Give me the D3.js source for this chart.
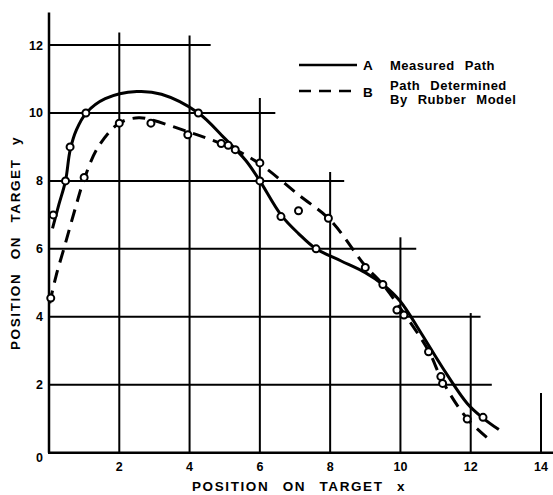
<!DOCTYPE html>
<html>
<head>
<meta charset="utf-8">
<script src="https://cdn.jsdelivr.net/npm/d3@7"></script>
<style>
  html, body { margin: 0; padding: 0; background: #fff; }
  svg { display: block; }
  text { font-family: "Liberation Sans", Arial, sans-serif; font-weight: bold; fill: #000; }
</style>
</head>
<body>
<svg id="chart" width="553" height="495"></svg>
<script>
// ---- data ----
const xTicks = [2, 4, 6, 8, 10, 12, 14];
const yTicks = [0, 2, 4, 6, 8, 10, 12];
// staircase grid: horizontal line at y ends at x; vertical line at x starts at top y
const hGridY   = [2, 4, 6, 8, 10, 12];
const hGridEnd = [12.6, 12.28, 10.45, 8.4, 6.44, 4.6];
const vGridX   = [2, 4, 6, 8, 10, 12, 14];
const vGridTop = [12.37, 12.28, 10.44, 8.26, 6.34, 4.11, 1.76];

// Curve A: measured path
const pathAx = [0.1, 0.28, 0.47, 0.6, 0.78, 1.06, 1.6, 2.5, 3.2, 4.25, 5.0, 5.6, 6.0, 6.6, 7.1, 7.6, 8.3, 9.0, 9.5, 10.0, 10.6, 11.2, 11.9, 12.35, 12.8];
const pathAy = [6.6, 7.3, 8.0, 8.9, 9.5, 10.0, 10.42, 10.63, 10.55, 10.0, 9.25, 8.6, 8.0, 7.0, 6.45, 6.0, 5.65, 5.3, 4.95, 4.45, 3.5, 2.5, 1.45, 1.02, 0.68];
const pointsAx = [0.12, 0.47, 0.6, 1.05, 4.25, 6.0, 6.6, 7.6, 9.5, 10.8, 11.15, 12.35];
const pointsAy = [7.0, 8.0, 9.0, 10.0, 10.0, 8.0, 6.95, 6.0, 4.95, 2.97, 2.24, 1.04];

// Curve B: path determined by rubber model
const pathBx = [0.02, 0.2, 0.45, 0.75, 1.0, 1.4, 2.0, 2.55, 2.9, 3.95, 4.9, 5.3, 6.0, 7.15, 8.0, 9.0, 9.5, 10.0, 10.8, 11.2, 11.9, 12.55];
const pathBy = [4.4, 5.2, 6.1, 7.2, 8.05, 9.0, 9.7, 9.86, 9.8, 9.45, 9.1, 8.92, 8.5, 7.55, 6.85, 5.5, 4.95, 4.25, 3.0, 2.1, 1.0, 0.37];
const pointsBx = [0.05, 1.0, 2.0, 2.9, 3.95, 4.9, 5.1, 5.3, 6.0, 7.1, 7.95, 9.0, 9.9, 10.1, 11.2, 11.9];
const pointsBy = [4.55, 8.1, 9.7, 9.7, 9.36, 9.1, 9.05, 8.92, 8.53, 7.12, 6.9, 5.45, 4.2, 4.05, 2.04, 0.99];

const legendLabels = ["A", "B"];
const legendText = [["Measured Path"], ["Path Determined", "By Rubber Model"]];
const xTitle = "POSITION ON TARGET x";
const yTitle = "POSITION ON TARGET y";

// ---- drawing ----
const svg = d3.select("#chart");
const x = d3.scaleLinear().domain([0, 14]).range([49, 541]);
const y = d3.scaleLinear().domain([0, 12]).range([452.7, 45]);

const grid = svg.append("g").attr("stroke", "#000").attr("stroke-width", 2);
hGridY.forEach((v, i) => {
  grid.append("line").attr("x1", x(0)).attr("x2", x(hGridEnd[i]))
    .attr("y1", y(v)).attr("y2", y(v));
});
vGridX.forEach((v, i) => {
  grid.append("line").attr("x1", x(v)).attr("x2", x(v))
    .attr("y1", y(0)).attr("y2", y(vGridTop[i]));
});
// axes
grid.append("line").attr("x1", x(0)).attr("x2", x(0)).attr("y1", y(0)).attr("y2", y(12.96)).attr("stroke-width", 2.5);
grid.append("line").attr("x1", x(0) - 1).attr("x2", 553).attr("y1", y(0)).attr("y2", y(0)).attr("stroke-width", 2.5);

// tick labels
svg.append("g").selectAll("text").data(xTicks).join("text")
  .attr("x", d => x(d)).attr("y", 471)
  .attr("text-anchor", "middle").attr("font-size", 12.5)
  .text(d => d);
svg.append("g").selectAll("text").data(yTicks).join("text")
  .attr("x", 43).attr("y", d => y(d) + (d === 0 ? 5 : 0))
  .attr("dy", "0.36em")
  .attr("text-anchor", "end").attr("font-size", 12.5)
  .text(d => d);

// axis titles
svg.append("text").attr("x", 299).attr("y", 491)
  .attr("text-anchor", "middle").attr("font-size", 13.5)
  .attr("letter-spacing", 1.6).attr("word-spacing", 8)
  .text(xTitle);
svg.append("text").attr("transform", "translate(20,243) rotate(-90)")
  .attr("text-anchor", "middle").attr("font-size", 13.5)
  .attr("letter-spacing", 1.6).attr("word-spacing", 8)
  .text(yTitle);

// curves
const lineGen = d3.line().x(d => x(d[0])).y(d => y(d[1])).curve(d3.curveCatmullRom.alpha(0.5));
const dataA = pathAx.map((v, i) => [v, pathAy[i]]);
const dataB = pathBx.map((v, i) => [v, pathBy[i]]);
svg.append("path").datum(dataA).attr("d", lineGen)
  .attr("fill", "none").attr("stroke", "#000").attr("stroke-width", 3);
svg.append("path").datum(dataB).attr("d", lineGen)
  .attr("fill", "none").attr("stroke", "#000").attr("stroke-width", 3)
  .attr("stroke-dasharray", "13,8");

// points
const pts = pointsAx.map((v, i) => [v, pointsAy[i]]).concat(pointsBx.map((v, i) => [v, pointsBy[i]]));
svg.append("g").selectAll("circle").data(pts).join("circle")
  .attr("cx", d => x(d[0])).attr("cy", d => y(d[1])).attr("r", 3.5)
  .attr("fill", "#fff").attr("stroke", "#000").attr("stroke-width", 2);

// legend
const lg = svg.append("g");
lg.append("line").attr("x1", 299).attr("x2", 357).attr("y1", 65).attr("y2", 65)
  .attr("stroke", "#000").attr("stroke-width", 2.5);
lg.append("line").attr("x1", 299).attr("x2", 357).attr("y1", 91).attr("y2", 91)
  .attr("stroke", "#000").attr("stroke-width", 2.5).attr("stroke-dasharray", "12,8");
lg.selectAll("text.key").data(legendLabels).join("text").attr("class", "key")
  .attr("x", 363).attr("y", (d, i) => i === 0 ? 70 : 96.5)
  .attr("font-size", 13.5).text(d => d);
legendText.forEach((lines, i) => {
  lines.forEach((t, j) => {
    lg.append("text").attr("x", 390).attr("y", (i === 0 ? 69.5 : 89.5) + j * 14)
      .attr("font-size", 13).attr("letter-spacing", 0.5).attr("word-spacing", 6)
      .text(t);
  });
});
</script>
</body>
</html>
